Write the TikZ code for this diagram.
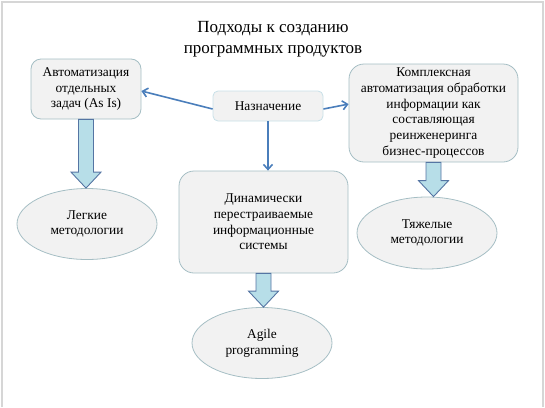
\documentclass[tikz,border=0pt]{standalone}
\usepackage{fontspec}
\setmainfont{Liberation Serif}
\usetikzlibrary{arrows.meta,calc,shapes.geometric}
\definecolor{boxfill}{HTML}{F2F2F2}
\definecolor{boxline}{HTML}{A5BEC4}
\definecolor{softline}{HTML}{C8E0E8}
\definecolor{linkblue}{HTML}{4A7EBB}
\definecolor{fatfill}{HTML}{B7DEE8}
\definecolor{fatline}{HTML}{5575A3}
\definecolor{frame}{HTML}{D6D6D6}

% block arrow from the bottom of one node to the top of another
\newcommand{\fatarrow}[2]{%
  \draw[fat] let \p1=(#1.south), \p2=(#2.north) in
    (\x1-7.5pt,\y1) -- (\x1+7.5pt,\y1) -- (\x1+7.5pt,\y2+16pt) -- (\x1+15pt,\y2+16pt)
    -- (\x1,\y2) -- (\x1-15pt,\y2+16pt) -- (\x1-7.5pt,\y2+16pt) -- cycle;}

\begin{document}
\begin{tikzpicture}[
  x=1pt, y=-1pt,
  box/.style={draw=boxline, fill=boxfill, line width=0.8pt, align=center,
    font=\fontsize{13.4}{15.7}\selectfont, inner sep=2pt},
  oval/.style={ellipse, draw=boxline, fill=boxfill, line width=0.8pt, align=center,
    font=\fontsize{13.4}{15.7}\selectfont, inner sep=0pt},
  arr/.style={-{Straight Barb[length=5pt,width=9pt]}, linkblue, line width=1.6pt},
  fat/.style={draw=fatline, fill=fatfill, line width=0.9pt, line join=miter}
]
  \useasboundingbox (0,0) rectangle (545,407);
  \draw[frame, line width=2pt] (2,407) -- (2,2) -- (543,2) -- (543,407);

  \node[font=\fontsize{17}{21}\selectfont, align=center] (title) at (273,39)
    {Подходы к созданию\\программных продуктов};

  \node[box, rounded corners=10pt, minimum width=110pt, minimum height=60pt] (tasks) at (86,89)
    {Автоматизация\\отдельных\\задач (As Is)};
  \node[box, draw=softline, rounded corners=5pt, minimum width=110pt, minimum height=30pt] (purpose) at (268,106)
    {Назначение};
  \node[box, rounded corners=15pt, minimum width=169pt, minimum height=98pt] (complex) at (433.5,113)
    {Комплексная\\автоматизация обработки\\информации как\\составляющая\\реинженеринга\\бизнес-процессов};
  \node[box, rounded corners=15pt, minimum width=169pt, minimum height=102pt] (dynamic) at (263.5,222)
    {Динамически\\перестраиваемые\\информационные\\системы};

  \node[oval, minimum width=140pt, minimum height=71pt] (light) at (87,224) {Легкие\\методологии};
  \node[oval, minimum width=140pt, minimum height=71pt] (agile) at (262,343) {Agile\\programming};
  \node[oval, minimum width=140pt, minimum height=72pt] (heavy) at (427,233) {Тяжелые\\методологии};

  \draw[arr] ([yshift=-3pt]purpose.west) -- ([yshift=-2pt]tasks.east);
  \draw[arr] ([yshift=-3pt]purpose.east) -- (complex.174);
  \draw[arr] (purpose.south) -- (purpose.south |- dynamic.north);

  \fatarrow{tasks}{light}
  \fatarrow{dynamic}{agile}
  \fatarrow{complex}{heavy}
\end{tikzpicture}
\end{document}
